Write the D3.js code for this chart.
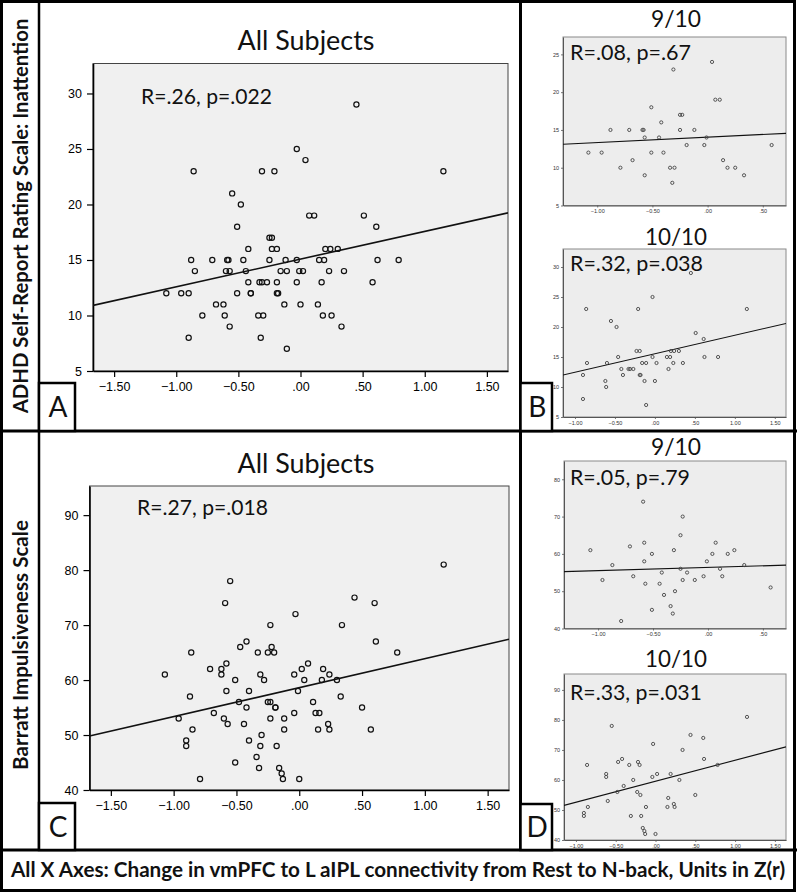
<!DOCTYPE html>
<html>
<head>
<meta charset="utf-8">
<script src="https://cdn.jsdelivr.net/npm/d3@7"></script>
<style>
  body { margin: 0; background: #fff; }
  svg { display: block; }
</style>
</head>
<body>
<script>
(function(){

    //data: [change in connectivity Z(r), scale score]
    var adhd910 = [[-1.08,12],[-0.96,12],[-0.88,15],[-0.79,10],[-0.71,15],[-0.68,11],[-0.59,15],[-0.58,15],
        [-0.57,14],[-0.57,9],[-0.51,18],[-0.51,12],[-0.44,14],[-0.42,16],[-0.40,12],[-0.34,10],[-0.32,8],
        [-0.31,23],[-0.30,10],[-0.25,15],[-0.25,17],[-0.23,17],[-0.19,13],[-0.12,15],[-0.03,13],[-0.01,14],
        [0.04,24],[0.07,19],[0.11,19],[0.14,11],[0.18,10],[0.25,10],[0.33,9],[0.58,13]];
    var adhd1010 = [[-0.90,8],[-0.90,12],[-0.86,23],[-0.85,14],[-0.62,11],[-0.61,10],[-0.60,14],[-0.55,21],
        [-0.48,20],[-0.46,15],[-0.42,13],[-0.40,12],[-0.33,13],[-0.31,13],[-0.27,13],[-0.23,16],[-0.19,16],
        [-0.21,23],[-0.19,12],[-0.18,12],[-0.16,14],[-0.13,11],[-0.11,14],[-0.11,7],[-0.03,25],[-0.03,15],
        [0.00,11],[0.02,14],[0.15,15],[0.17,13],[0.19,15],[0.20,16],[0.24,16],[0.23,14],[0.30,16],[0.35,14],
        [0.45,29],[0.51,19],[0.61,18],[0.62,15],[0.79,15],[1.15,23]];
    var barratt910 = [[-1.07,61],[-0.96,53],[-0.87,57],[-0.79,42],[-0.71,62],[-0.68,54],[-0.59,74],[-0.58,63],
        [-0.58,58],[-0.57,52],[-0.51,60],[-0.51,45],[-0.44,52],[-0.42,55],[-0.40,49],[-0.34,46],[-0.32,44],
        [-0.31,61],[-0.30,50],[-0.25,65],[-0.25,56],[-0.23,53],[-0.23,70],[-0.19,55],[-0.12,53],[-0.04,54],
        [-0.01,58],[0.04,60],[0.07,63],[0.11,56],[0.13,54],[0.18,60],[0.24,61],[0.33,57],[0.57,51]];
    var barratt1010 = [[-0.90,49],[-0.90,48],[-0.86,65],[-0.85,51],[-0.62,62],[-0.62,61],[-0.60,53],[-0.55,78],
        [-0.48,56],[-0.47,66],[-0.42,67],[-0.40,58],[-0.33,65],[-0.31,48],[-0.28,60],[-0.22,66],[-0.20,65],
        [-0.23,56],[-0.19,55],[-0.18,48],[-0.16,44],[-0.14,43],[-0.13,42],[-0.12,51],[-0.04,61],[-0.03,72],
        [0.00,42],[0.02,62],[0.15,51],[0.16,54],[0.19,62],[0.23,52],[0.24,51],[0.30,60],[0.34,70],[0.44,75],
        [0.50,55],[0.60,74],[0.61,67],[0.78,65],[1.15,81]];

    //text and tick labels
    var groupTitles = ["All Subjects", "9/10", "10/10"];
    var adhdStats = ["R=.26, p=.022", "R=.08, p=.67", "R=.32, p=.038"];
    var barrattStats = ["R=.27, p=.018", "R=.05, p=.79", "R=.33, p=.031"];
    var rowLabels = ["ADHD Self-Report Rating Scale: Inattention", "Barratt Impulsiveness Scale"];
    var panelLetters = ["A", "B", "C", "D"];
    var footer = "All X Axes: Change in vmPFC to L aIPL connectivity from Rest to N-back, Units in Z(r)";
    var xTicksWide = [-1.5, -1, -0.5, 0, 0.5, 1, 1.5];
    var xTicks910 = [-1, -0.5, 0, 0.5];
    var adhdTicks = [5, 10, 15, 20, 25, 30];
    var barrattTicks = [40, 50, 60, 70, 80, 90];

    var W = 797, H = 893;
    var titleFont = "Lato, 'Open Sans', sans-serif";
    var tickFont = "'Liberation Sans', Arial, sans-serif";

    var svg = d3.select("body").append("svg")
        .attr("width", W)
        .attr("height", H);

    var fmt = function(v){
        return d3.format(".2f")(v).replace(/^(-?)0\./, "$1.");
    };

    //least squares fit for the regression line
    function fitLine(pts){
        var mx = d3.mean(pts, function(d){ return d[0]; }),
            my = d3.mean(pts, function(d){ return d[1]; });
        var sxy = d3.sum(pts, function(d){ return (d[0]-mx)*(d[1]-my); }),
            sxx = d3.sum(pts, function(d){ return (d[0]-mx)*(d[0]-mx); });
        var b = sxy / sxx;
        return {a: my - b*mx, b: b};
    };

    //scale font so that the text takes up a given width
    function fitWidth(sel, w){
        var len = sel.node().getComputedTextLength();
        var fs = parseFloat(sel.attr("font-size"));
        sel.attr("font-size", fs * w / len);
    };

    var clipId = 0;

    function drawPlot(c){
        var g = svg.append("g");
        var x = d3.scaleLinear().domain(c.xDomain).range([c.x0, c.x1]);
        var y = d3.scaleLinear().domain(c.yDomain).range([c.y1, c.y0]);

        g.append("rect")
            .attr("x", c.x0).attr("y", c.y0)
            .attr("width", c.x1 - c.x0).attr("height", c.y1 - c.y0)
            .attr("fill", c.fill)
            .attr("stroke", c.border)
            .attr("stroke-width", c.borderW);

        var xAxis = d3.axisBottom(x).tickValues(c.xTicks).tickFormat(fmt)
            .tickSizeInner(c.tick).tickSizeOuter(0).tickPadding(c.pad);
        var yAxis = d3.axisLeft(y).tickValues(c.yTicks).tickFormat(d3.format("d"))
            .tickSizeInner(c.tick).tickSizeOuter(0).tickPadding(c.pad);

        var gx = g.append("g").attr("transform", "translate(0," + c.y1 + ")").call(xAxis);
        var gy = g.append("g").attr("transform", "translate(" + c.x0 + ",0)").call(yAxis);
        [gx, gy].forEach(function(ax){
            ax.select(".domain").attr("stroke", c.axisColor).attr("stroke-width", c.axisW);
            ax.selectAll(".tick line").attr("stroke", c.axisColor).attr("stroke-width", c.tickW);
            ax.selectAll(".tick text")
                .attr("font-family", tickFont)
                .attr("font-size", c.tickFs)
                .attr("fill", c.tickColor);
        });

        clipId += 1;
        g.append("clipPath").attr("id", "clip" + clipId)
            .append("rect")
            .attr("x", c.x0).attr("y", c.y0)
            .attr("width", c.x1 - c.x0).attr("height", c.y1 - c.y0);

        var fit = fitLine(c.data);
        var line = d3.line()
            .x(function(d){ return x(d); })
            .y(function(d){ return y(fit.a + fit.b * d); });
        g.append("path")
            .datum(c.xDomain)
            .attr("clip-path", "url(#clip" + clipId + ")")
            .attr("d", line)
            .attr("fill", "none")
            .attr("stroke", "#111")
            .attr("stroke-width", c.lineW);

        g.selectAll(".pt")
            .data(c.data)
            .enter()
            .append("circle")
            .attr("class", "pt")
            .attr("cx", function(d){ return x(d[0]); })
            .attr("cy", function(d){ return y(d[1]); })
            .attr("r", c.r)
            .attr("fill", "none")
            .attr("stroke", c.ptColor)
            .attr("stroke-width", c.ptW);

        var st = g.append("text")
            .attr("x", c.statX).attr("y", c.statY)
            .attr("dy", "0.36em")
            .attr("font-family", titleFont)
            .attr("font-size", 20)
            .attr("fill", "#111")
            .text(c.stat);
        fitWidth(st, c.statW);

        var tt = g.append("text")
            .attr("x", c.titleX).attr("y", c.titleY)
            .attr("dy", "0.36em")
            .attr("text-anchor", "middle")
            .attr("font-family", titleFont)
            .attr("font-size", 24)
            .attr("fill", "#111")
            .text(c.title);
        fitWidth(tt, c.titleW);
    };

    var big = {fill: "#f0f0f0", border: "#444", borderW: 1, axisColor: "#000", axisW: 1.6,
        tickW: 1.2, tick: 6, pad: 5, tickFs: 12.5, tickColor: "#000", lineW: 1.6, r: 2.6,
        ptColor: "#111", ptW: 1.2, xDomain: [-1.67, 1.67], xTicks: xTicksWide};
    var small = {fill: "#ededed", border: "#8a8a8a", borderW: 1, axisColor: "#555", axisW: 1,
        tickW: 0.8, tick: 2, pad: 2, tickFs: 5.5, tickColor: "#333", lineW: 1.1, r: 1.6,
        ptColor: "#444", ptW: 0.9, statX: 570, titleX: 676};

    var plots = [
        Object.assign({}, big, {x0: 93, x1: 508, y0: 63.5, y1: 371, yDomain: [5, 32.7], yTicks: adhdTicks,
            data: adhd910.concat(adhd1010), title: groupTitles[0], titleX: 306, titleY: 40, titleW: 137,
            stat: adhdStats[0], statX: 141, statY: 96, statW: 131}),
        Object.assign({}, big, {x0: 89.5, x1: 509, y0: 486, y1: 790, yDomain: [40, 95.3], yTicks: barrattTicks,
            data: barratt910.concat(barratt1010), title: groupTitles[0], titleX: 306, titleY: 463, titleW: 137,
            stat: barrattStats[0], statX: 137, statY: 507, statW: 131}),
        Object.assign({}, small, {x0: 563, x1: 786, y0: 37, y1: 205.5, xDomain: [-1.31, 0.71], xTicks: xTicks910,
            yDomain: [5, 27.3], yTicks: [5, 10, 15, 20, 25], data: adhd910,
            title: groupTitles[1], titleY: 19, titleW: 50, stat: adhdStats[1], statY: 52, statW: 121}),
        Object.assign({}, small, {x0: 563, x1: 786, y0: 249, y1: 417, xDomain: [-1.15, 1.64], xTicks: xTicksWide.slice(1),
            yDomain: [5, 33], yTicks: adhdTicks, data: adhd1010,
            title: groupTitles[2], titleY: 237, titleW: 62, stat: adhdStats[2], statY: 263, statW: 133}),
        Object.assign({}, small, {x0: 564, x1: 786, y0: 461, y1: 628.5, xDomain: [-1.31, 0.71], xTicks: xTicks910,
            yDomain: [40, 84.9], yTicks: [40, 50, 60, 70, 80], data: barratt910,
            title: groupTitles[1], titleY: 447, titleW: 50, stat: barrattStats[1], statY: 477, statW: 120}),
        Object.assign({}, small, {x0: 564, x1: 786, y0: 674, y1: 840, xDomain: [-1.15, 1.64], xTicks: xTicksWide.slice(1),
            yDomain: [40, 95.3], yTicks: barrattTicks, data: barratt1010,
            title: groupTitles[2], titleY: 659, titleW: 62, stat: barrattStats[2], statY: 692, statW: 132})
    ];
    plots.forEach(drawPlot);

    //frame lines
    var frame = svg.append("g").attr("stroke", "#000").attr("fill", "none");
    frame.append("rect").attr("x", 1.5).attr("y", 1.5).attr("width", 793).attr("height", 889).attr("stroke-width", 3);
    frame.append("line").attr("x1", 39).attr("x2", 39).attr("y1", 0).attr("y2", 850).attr("stroke-width", 2.5);
    frame.append("line").attr("x1", 520.5).attr("x2", 520.5).attr("y1", 0).attr("y2", 850).attr("stroke-width", 3);
    frame.append("line").attr("x1", 0).attr("x2", W).attr("y1", 431).attr("y2", 431).attr("stroke-width", 3);
    frame.append("line").attr("x1", 0).attr("x2", W).attr("y1", 850).attr("y2", 850).attr("stroke-width", 3);

    //panel letter boxes
    var boxes = [[39, 383], [520.5, 383], [39, 803], [520.5, 804]];
    var boxW = [36, 31.5, 36, 31.5];
    boxes.forEach(function(b, i){
        var h = (i < 2 ? 431 : 850) - b[1];
        svg.append("rect")
            .attr("x", b[0]).attr("y", b[1])
            .attr("width", boxW[i]).attr("height", h)
            .attr("fill", "#fff").attr("stroke", "#000").attr("stroke-width", 2.5);
        svg.append("text")
            .attr("x", b[0] + boxW[i] / 2 + 1).attr("y", b[1] + h / 2)
            .attr("dy", "0.36em")
            .attr("text-anchor", "middle")
            .attr("font-family", titleFont)
            .attr("font-size", 28)
            .attr("fill", "#111")
            .text(panelLetters[i]);
    });

    //row labels, rotated
    var rowPos = [[21, 216, 395], [21, 645, 250]];
    rowLabels.forEach(function(t, i){
        var lab = svg.append("text")
            .attr("x", 0).attr("y", 0)
            .attr("dy", "0.36em")
            .attr("text-anchor", "middle")
            .attr("font-family", titleFont)
            .attr("font-weight", "bold")
            .attr("font-size", 17)
            .attr("fill", "#111")
            .text(t);
        fitWidth(lab, rowPos[i][2]);
        lab.attr("transform", "translate(" + rowPos[i][0] + "," + rowPos[i][1] + ") rotate(-90)");
    });

    //footer strip
    var ft = svg.append("text")
        .attr("x", 398).attr("y", 870)
        .attr("dy", "0.36em")
        .attr("text-anchor", "middle")
        .attr("font-family", titleFont)
        .attr("font-weight", "bold")
        .attr("font-size", 18)
        .attr("fill", "#111")
        .text(footer);
    fitWidth(ft, 775);

})();
</script>
</body>
</html>
